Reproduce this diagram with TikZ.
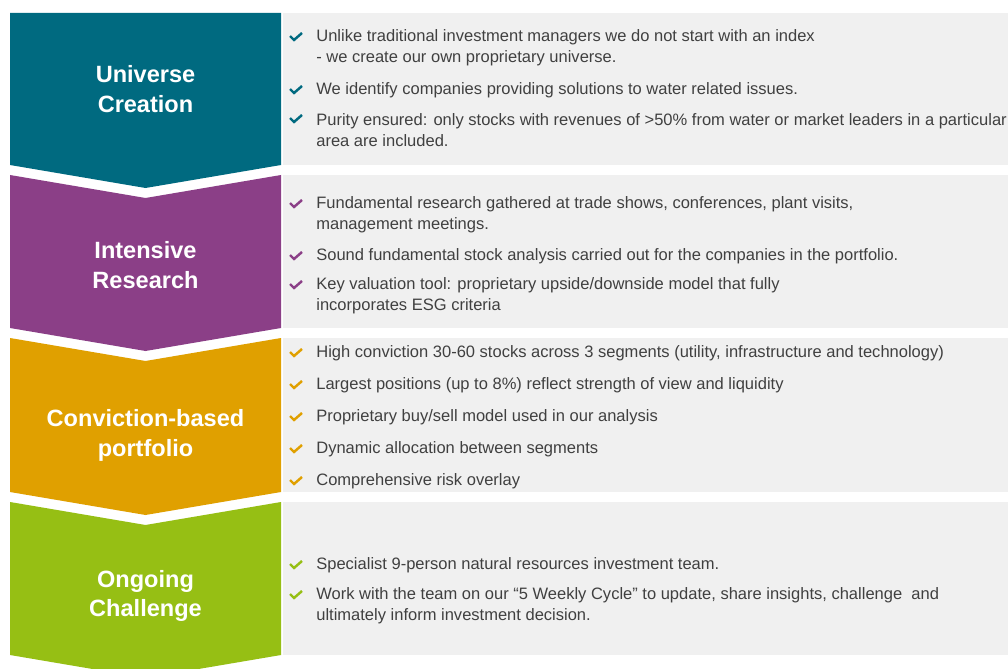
\documentclass[tikz,border=0pt]{standalone}
\usepackage{fontspec}
\setmainfont{Liberation Sans}
\usepackage{xcolor}
\usetikzlibrary{positioning}

\definecolor{uniTeal}{RGB}{0,106,128}
\definecolor{resPurple}{RGB}{139,63,135}
\definecolor{convGold}{RGB}{224,160,0}
\definecolor{chalGreen}{RGB}{150,191,20}
\definecolor{panelGrey}{RGB}{240,240,240}
\definecolor{bodyGrey}{RGB}{64,64,64}

\begin{document}
\begin{tikzpicture}[
    x=0.02cm, y=-0.02cm,
    panel/.style={fill=panelGrey},
    title/.style={text=white, align=center, inner sep=0pt,
        font=\bfseries\fontsize{13.4}{17}\selectfont},
    item/.style={anchor=west, text=bodyGrey, align=left, inner sep=0pt,
        font=\fontsize{9.4}{11.9}\selectfont},
    pics/tick/.style={code={\draw[line width=1.4pt] (-6,-1) -- (-2,3) -- (6,-4);}}
]
    \clip (0,0) rectangle (1008,669);
    \fill[white] (0,0) rectangle (1008,669);

    % grey panels on the right
    \fill[panel] (283,13) rectangle (1008,165);
    \fill[panel] (283,175) rectangle (1008,328);
    \fill[panel] (283,338) rectangle (1008,492);
    \fill[panel] (283,502) rectangle (1008,655);

    % chevrons on the left
    \fill[uniTeal] (10,13) -- (281,13) -- (281,165) -- (145.5,188) -- (10,165) -- cycle;
    \fill[resPurple] (10,175) -- (145.5,198) -- (281,175) -- (281,328) -- (145.5,351) -- (10,328) -- cycle;
    \fill[convGold] (10,338) -- (145.5,361) -- (281,338) -- (281,492) -- (145.5,515) -- (10,492) -- cycle;
    \fill[chalGreen] (10,502) -- (145.5,525) -- (281,502) -- (281,655) -- (145.5,678) -- (10,655) -- cycle;

    \node[title] (universe) at (145.5,89) {Universe\\Creation};
    \node[title] (research) at (145.5,265.5) {Intensive\\Research};
    \node[title] (conviction) at (145.5,435.5) {Conviction-based\\portfolio};
    \node[title] (challenge) at (145.5,596) {Ongoing\\Challenge};

    % Universe Creation
    \pic[uniTeal] at (296,37) {tick};
    \node[item] (uni1) at (316,47.5) {Unlike traditional investment managers we do not start with an index\\- we create our own proprietary universe.};
    \pic[uniTeal] at (296,90) {tick};
    \node[item] (uni2) at (316,90) {We identify companies providing solutions to water related issues.};
    \pic[uniTeal] at (296,119) {tick};
    \node[item] (uni3) at (316,130) {Purity ensured: only stocks with revenues of >50\% from water or market leaders in a particular\\area are included.};

    % Intensive Research
    \pic[resPurple] at (296,204) {tick};
    \node[item] (res1) at (316,215) {Fundamental research gathered at trade shows, conferences, plant visits,\\management meetings.};
    \pic[resPurple] at (296,256) {tick};
    \node[item] (res2) at (316,256) {Sound fundamental stock analysis carried out for the companies in the portfolio.};
    \pic[resPurple] at (296,285) {tick};
    \node[item] (res3) at (316,296) {Key valuation tool: proprietary upside/downside model that fully\\incorporates ESG criteria};

    % Conviction-based portfolio
    \pic[convGold] at (296,353) {tick};
    \node[item] (conv1) at (316,353) {High conviction 30-60 stocks across 3 segments (utility, infrastructure and technology)};
    \pic[convGold] at (296,385) {tick};
    \node[item] (conv2) at (316,385) {Largest positions (up to 8\%) reflect strength of view and liquidity};
    \pic[convGold] at (296,417) {tick};
    \node[item] (conv3) at (316,417) {Proprietary buy/sell model used in our analysis};
    \pic[convGold] at (296,449) {tick};
    \node[item] (conv4) at (316,449) {Dynamic allocation between segments};
    \pic[convGold] at (296,481) {tick};
    \node[item] (conv5) at (316,481) {Comprehensive risk overlay};

    % Ongoing Challenge
    \pic[chalGreen] at (296,565) {tick};
    \node[item] (chal1) at (316,565) {Specialist 9-person natural resources investment team.};
    \pic[chalGreen] at (296,595) {tick};
    \node[item] (chal2) at (316,606) {Work with the team on our “5 Weekly Cycle” to update, share insights, challenge\ \ and\\ultimately inform investment decision.};
\end{tikzpicture}
\end{document}
